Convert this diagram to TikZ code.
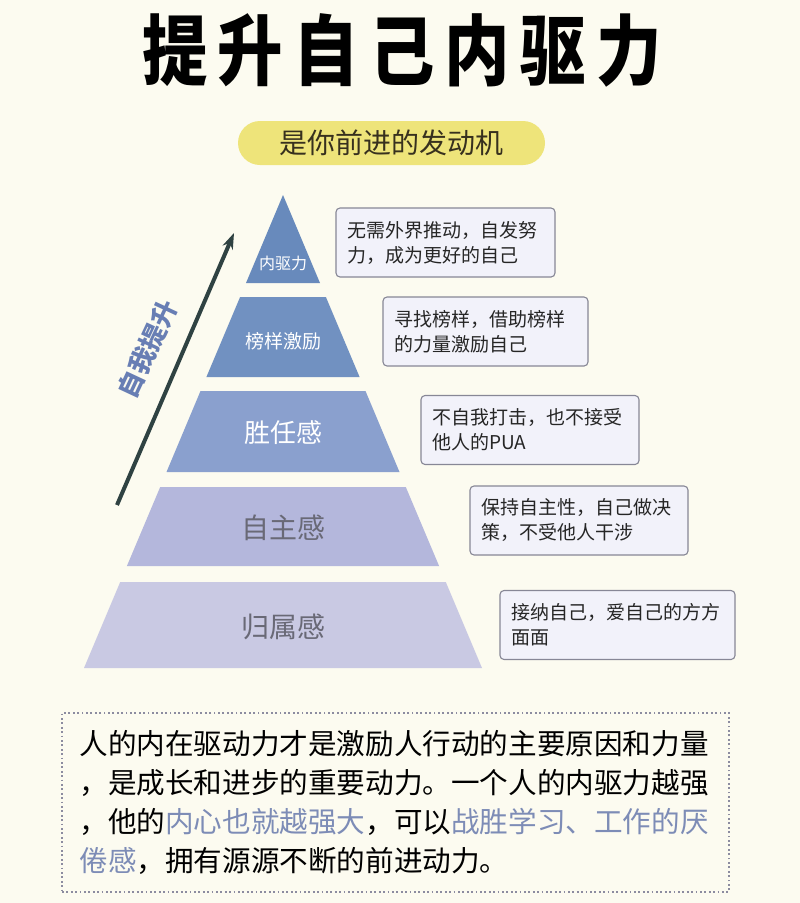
\documentclass[tikz,border=0pt]{standalone}
\usepackage{fontspec}
\usepackage{graphicx}
\setmainfont{Noto Sans CJK SC}
\usepackage{tikz}
\usetikzlibrary{arrows.meta}

\definecolor{bgcream}{RGB}{252,251,240}
\definecolor{pillyel}{RGB}{238,228,122}
\definecolor{tierA}{RGB}{104,138,188}
\definecolor{tierB}{RGB}{113,145,193}
\definecolor{tierC}{RGB}{138,160,206}
\definecolor{tierD}{RGB}{180,183,220}
\definecolor{tierE}{RGB}{201,201,227}
\definecolor{tiergray}{RGB}{105,105,118}
\definecolor{boxfill}{RGB}{242,242,250}
\definecolor{boxline}{RGB}{135,135,150}
\definecolor{risecol}{RGB}{47,66,66}
\definecolor{riselbl}{RGB}{104,126,180}
\definecolor{hilite}{RGB}{125,140,182}
\newcommand{\tsp}{\hspace{12pt}}

\tikzset{
  tierlbl/.style={inner sep=0pt},
  descbox/.style={draw=boxline,fill=boxfill,rounded corners=4pt,line width=1.1pt,
    minimum height=69pt,inner xsep=11pt,align=left,
    font=\fontsize{19}{25}\selectfont,text=black!85},
  riser/.style={-{Stealth[length=16pt,width=11pt]},line width=4pt,risecol}
}

\begin{document}
\begin{tikzpicture}[x=1pt,y=-1pt,>=Stealth]
\fill[bgcream](0,0)rectangle(800,903);
\node[font=\fontsize{77}{77}\selectfont\bfseries](title) at (402,50)
  {\scalebox{0.85}[1]{提\tsp 升\tsp 自\tsp 己\tsp 内\tsp 驱\tsp 力}};
\node[fill=pillyel,rounded corners=22pt,minimum width=307pt,minimum height=44pt,
  font=\fontsize{28}{28}\selectfont,text={rgb,255:red,55;green,48;blue,30}](sub) at (391.5,143)
  {是你前进的发动机};

% pyramid
\fill[tierA](283,195)--(320,283)--(246,283)--cycle;
\fill[tierB](240.1,297)--(325.9,297)--(359.6,377)--(206.4,377)--cycle;
\fill[tierC](200.5,391)--(365.5,391)--(399.5,472)--(166.5,472)--cycle;
\fill[tierD](160.2,487)--(405.8,487)--(439.1,566)--(126.9,566)--cycle;
\fill[tierE](120.2,582)--(445.8,582)--(482,668)--(84,668)--cycle;
\node[tierlbl,white,font=\fontsize{16}{16}\selectfont](t1) at (283,263){内驱力};
\node[tierlbl,white,font=\fontsize{19}{19}\selectfont](t2) at (283,341){榜样激励};
\node[tierlbl,white,font=\fontsize{26}{26}\selectfont](t3) at (283,433){胜任感};
\node[tierlbl,tiergray,font=\fontsize{28}{28}\selectfont](t4) at (283,528){自主感};
\node[tierlbl,tiergray,font=\fontsize{28}{28}\selectfont](t5) at (283,627){归属感};

% arrow
\coordinate(rise0) at (117,505);
\coordinate(rise1) at (234,233);
\draw[riser](rise0)--(rise1);
\node[riselbl,rotate=65,font=\fontsize{26}{26}\selectfont\bfseries](rlbl) at (148,349){自我提升};

% boxes
\node[descbox,minimum width=219pt,text width=197pt](d1) at (445.5,242.5)
  {无需外界推动，自发努\\力，成为更好的自己};
\node[descbox,minimum width=205pt,text width=183pt](d2) at (485.5,331.5)
  {寻找榜样，借助榜样\\的力量激励自己};
\node[descbox,minimum width=218pt,text width=196pt](d3) at (530,430)
  {不自我打击，也不接受\\他人的PUA};
\node[descbox,minimum width=218pt,text width=196pt](d4) at (579,520.5)
  {保持自主性，自己做决\\策，不受他人干涉};
\node[descbox,minimum width=235pt,text width=213pt](d5) at (617.5,625)
  {接纳自己，爱自己的方方\\面面};

% summary
\node[draw={rgb,255:red,140;green,140;blue,160},line width=1.8pt,dash pattern=on 1.8pt off 2.6pt,
  minimum width=667pt,minimum height=179pt,text width=632pt,inner xsep=17.5pt,align=left,
  font=\fontsize{28.6}{39}\selectfont](sum) at (395.5,802.5)
  {人的内在驱动力才是激励人行动的主要原因和力量\\
   ，是成长和进步的重要动力。一个人的内驱力越强\\
   ，他的\textcolor{hilite}{内心也就越强大}，可以\textcolor{hilite}{战胜学习、工作的厌}\\
   \textcolor{hilite}{倦感}，拥有源源不断的前进动力。};
\end{tikzpicture}
\end{document}
